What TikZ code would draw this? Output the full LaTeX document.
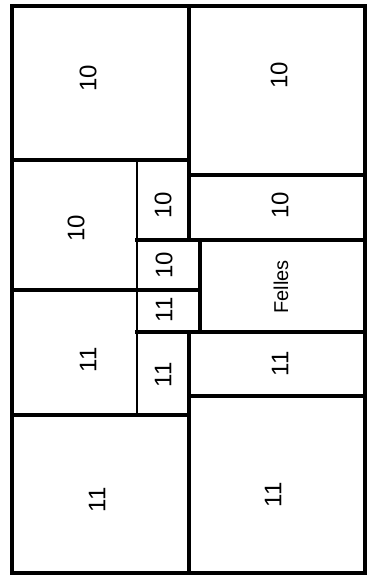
\documentclass[tikz,border=0pt]{standalone}
\usepackage{fontspec}
\setmainfont{Liberation Sans}
\usetikzlibrary{positioning}

\begin{document}
\begin{tikzpicture}[x=0.5pt, y=-0.5pt,
    wall/.style={draw, line width=1.6pt, line cap=rect},
    thinwall/.style={draw, line width=1.1pt},
    num/.style={rotate=90, inner sep=0pt, font=\fontsize{12}{12}\selectfont},
    tag/.style={rotate=90, inner sep=0pt, font=\fontsize{10}{10}\selectfont}
]
    \useasboundingbox (0,0) rectangle (368,578);

    % outer frame
    \draw[wall, line width=2pt] (12,6) rectangle (365,573);

    % division lines
    \draw[wall] (12,160) -- (189,160);
    \draw[wall] (189,6) -- (189,240);
    \draw[wall] (189,175) -- (365,175);
    \draw[thinwall] (137,160) -- (137,415);
    \draw[wall] (137,240) -- (365,240);
    \draw[wall] (200,240) -- (200,332);
    \draw[wall] (12,290) -- (200,290);
    \draw[wall] (137,332) -- (365,332);
    \draw[wall] (189,332) -- (189,573);
    \draw[wall] (189,396) -- (365,396);
    \draw[wall] (12,415) -- (189,415);

    % labels
    \node[num] (tl) at (88,78) {10};
    \node[num] (tr) at (279,75) {10};
    \node[num] (ml) at (76,228) {10};
    \node[num] (ms) at (163,205) {10};
    \node[num] (mr) at (280,205) {10};
    \node[num] (cs) at (164,265) {10};
    \node[num] (cl) at (164,310) {11};
    \node[tag] (felles) at (281,287) {Felles};
    \node[num] (ll) at (88,360) {11};
    \node[num] (ls) at (163,375) {11};
    \node[num] (lr) at (280,364) {11};
    \node[num] (bl) at (97,500) {11};
    \node[num] (br) at (273,495) {11};
\end{tikzpicture}
\end{document}
